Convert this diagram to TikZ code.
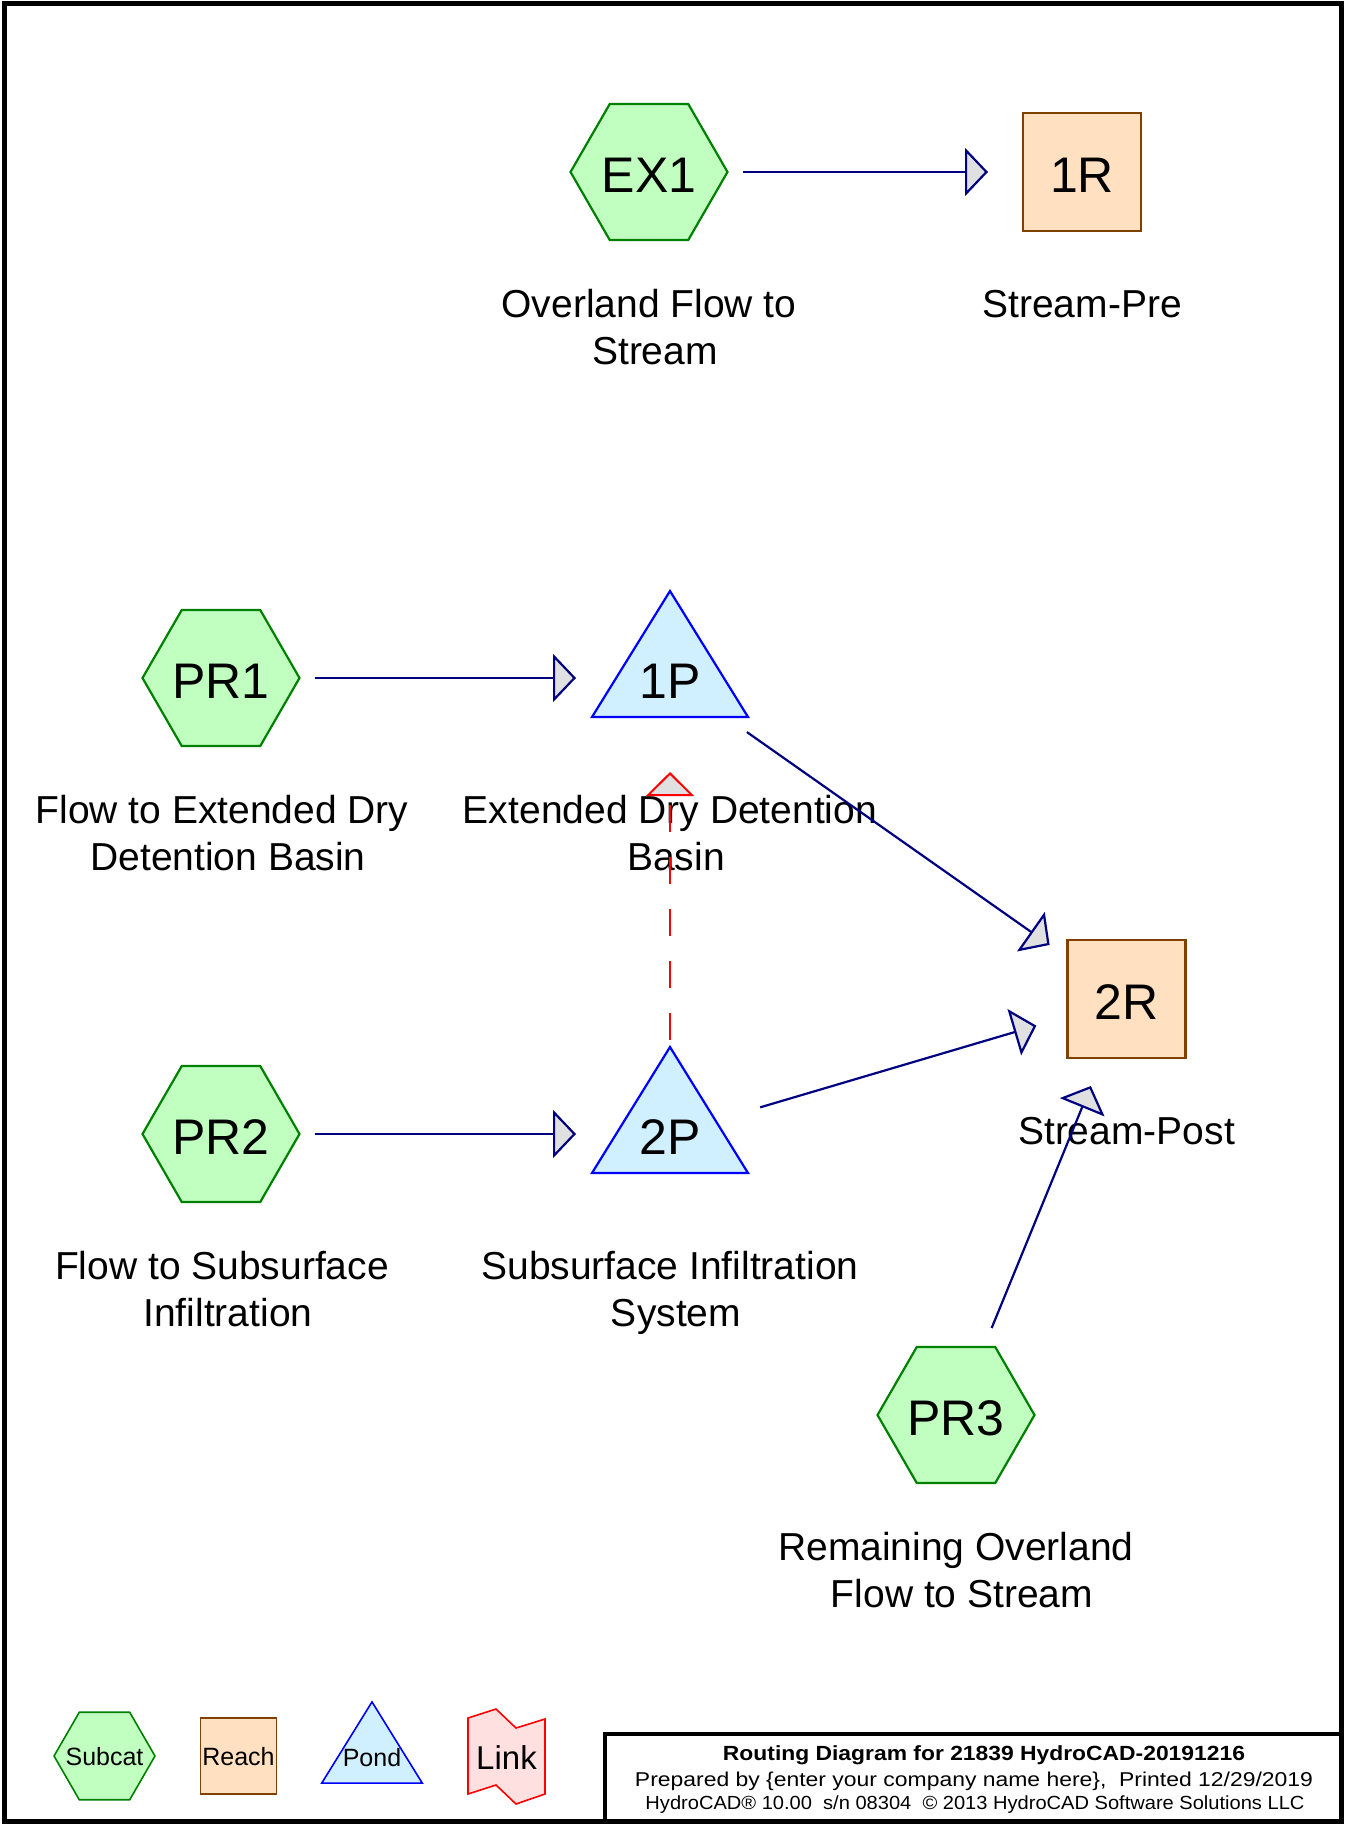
\documentclass[tikz,border=0pt]{standalone}
\usepackage{fontspec}
\setmainfont{Liberation Sans}
\usetikzlibrary{arrows.meta}
\definecolor{subfill}{RGB}{192,255,192}
\definecolor{subdraw}{RGB}{0,128,0}
\definecolor{reachfill}{RGB}{255,224,192}
\definecolor{reachdraw}{RGB}{128,64,0}
\definecolor{pondfill}{RGB}{208,240,255}
\definecolor{ponddraw}{RGB}{0,0,255}
\definecolor{linkfill}{RGB}{255,224,224}
\definecolor{linkdraw}{RGB}{255,0,0}
\definecolor{flowcol}{RGB}{0,0,128}
\definecolor{headfill}{RGB}{224,224,224}
\begin{document}
\begin{tikzpicture}[x=1pt,y=-1pt,line width=2.2pt,
  subcatshape/.style={fill=subfill,draw=subdraw},
  reachshape/.style={fill=reachfill,draw=reachdraw},
  pondshape/.style={fill=pondfill,draw=ponddraw},
  linkshape/.style={fill=linkfill,draw=linkdraw},
  pics/hexa/.style={code={\path[subcatshape] (-78.5,0) -- (-39.25,-68) -- (39.25,-68) -- (78.5,0) -- (39.25,68) -- (-39.25,68) -- cycle;}},
  pics/tri/.style={code={\path[pondshape] (0,-87) -- (78,39) -- (-78,39) -- cycle;}},
  pics/sqbox/.style={code={\path[reachshape] (-59,-59) rectangle (59,59);}},
  nodetxt/.style={font=\fontsize{50}{60}\selectfont,inner sep=0pt,text height=41pt,text depth=0pt},
  lbl/.style={font=\fontsize{39}{46.5}\selectfont,align=center,anchor=north,inner sep=0pt,outer sep=0pt},
  legtxt/.style={font=\fontsize{25}{30}\selectfont,inner sep=0pt},
  flow/.style={draw=flowcol,line width=2.2pt,shorten <=94pt,shorten >=94pt,
    -{Triangle[length=23pt,width=48pt,fill=headfill]}},
  linkflow/.style={draw=linkdraw,line width=2pt,dash pattern=on 27pt off 25pt,shorten <=94pt,shorten >=94pt,
    -{Triangle[length=24pt,width=48pt,fill=headfill]}},
  ttl/.style={anchor=base,inner sep=0pt}
]
\useasboundingbox (0,0) rectangle (1345,1825);
\fill[white] (0,0) rectangle (1345,1825);

% shapes
\pic at (649,172) {hexa};
\pic at (1082,172) {sqbox};
\pic at (221,678) {hexa};
\pic at (670,678) {tri};
\pic at (221,1134) {hexa};
\pic at (670,1134) {tri};
\pic at (1126.5,999) {sqbox};
\pic at (956,1415) {hexa};

% node texts
\node[nodetxt] (EX1) at (649,172) {EX1};
\node[nodetxt] (1R) at (1082,172) {1R};
\node[nodetxt] (PR1) at (221,678) {PR1};
\node[nodetxt] (1P) at (670,678) {1P};
\node[nodetxt] (PR2) at (221,1134) {PR2};
\node[nodetxt] (2P) at (670,1134) {2P};
\node[nodetxt] (2R) at (1126.5,999) {2R};
\node[nodetxt] (PR3) at (956,1415) {PR3};

% labels
\node[lbl] (lEX1) at (649,285) {\strut Overland Flow to\\\strut\hspace*{12pt}Stream};
\node[lbl] (l1R) at (1082,285) {\strut Stream-Pre};
\node[lbl] (lPR1) at (222,791) {\strut Flow to Extended Dry\\\strut\hspace*{12pt}Detention Basin};
\node[lbl] (l1P) at (670,791) {\strut Extended Dry Detention\\\strut\hspace*{12pt}Basin};
\node[lbl] (lPR2) at (222,1247) {\strut Flow to Subsurface\\\strut\hspace*{12pt}Infiltration};
\node[lbl] (l2P) at (670,1247) {\strut Subsurface Infiltration\\\strut\hspace*{12pt}System};
\node[lbl] (l2R) at (1126.5,1112) {\strut Stream-Post};
\node[lbl] (lPR3) at (956,1528) {\strut Remaining Overland\\\strut\hspace*{12pt}Flow to Stream};

% connectors
\draw[flow] (EX1.center) -- (1R.center);
\draw[flow] (PR1.center) -- (1P.center);
\draw[flow] (PR2.center) -- (2P.center);
\draw[flow] (1P.center) -- (2R.center);
\draw[flow] (2P.center) -- (2R.center);
\draw[flow] (PR3.center) -- (2R.center);
\draw[linkflow] (2P.center) -- (1P.center);

% legend
\pic[scale=0.643,line width=1.6pt] at (104.5,1756) {hexa};
\pic[scale=0.645,line width=1.6pt] at (238.5,1756) {sqbox};
\pic[scale=0.645,line width=1.6pt] at (372,1758) {tri};
\path[linkshape,line width=1.6pt] (468,1718) -- (496,1709) -- (516,1728) -- (545,1719) -- (545,1794) -- (516,1804) -- (496,1785) -- (468,1794) -- cycle;
\node[legtxt] (legsub) at (104.5,1757) {Subcat};
\node[legtxt] (legreach) at (238.5,1757) {Reach};
\node[legtxt] (legpond) at (372,1758) {Pond};
\node[legtxt,font=\fontsize{33}{40}\selectfont] (leglink) at (506.5,1758) {Link};

% frames
\draw[line width=5pt] (4,4) rectangle (1341,1821);
\draw[line width=4pt] (605,1733.5) rectangle (1341,1821);

% title block
\node[ttl] (t1) at (984,1760) {\resizebox{522pt}{\height}{\fontsize{20.5}{24}\selectfont\bfseries Routing Diagram for 21839 HydroCAD-20191216}};
\node[ttl] (t2) at (974,1786) {\resizebox{678pt}{\height}{\fontsize{20}{24}\selectfont Prepared by \{enter your company name here\},\ \ Printed 12/29/2019}};
\node[ttl] (t3) at (975,1809) {\resizebox{659pt}{\height}{\fontsize{19}{23}\selectfont HydroCAD® 10.00\ \ s/n 08304\ \ © 2013 HydroCAD Software Solutions LLC}};
\end{tikzpicture}
\end{document}
